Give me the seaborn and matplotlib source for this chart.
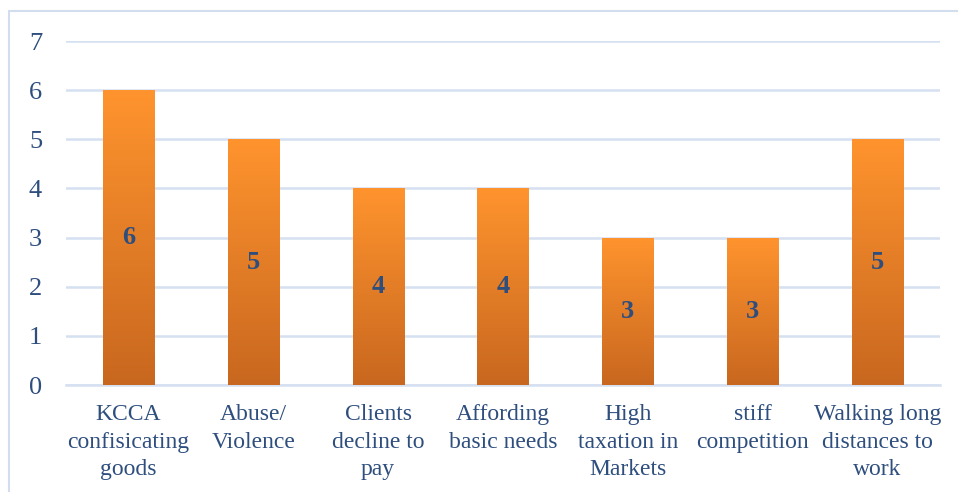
import numpy as np
import pandas as pd
import matplotlib
matplotlib.use("Agg")
import matplotlib.pyplot as plt
from matplotlib.patches import Rectangle
from matplotlib.colors import LinearSegmentedColormap
import seaborn as sns

# Challenges reported and how many respondents named each
categories = [
    "KCCA\nconfisicating\ngoods",
    "Abuse/\nViolence",
    "Clients\ndecline to\npay",
    "Affording\nbasic needs",
    "High\ntaxation in\nMarkets",
    "stiff\ncompetition",
    "Walking long\ndistances to\nwork",
]
counts = [6, 5, 4, 4, 3, 3, 5]
y_ticks = [0, 1, 2, 3, 4, 5, 6, 7]

TEXT_BLUE = "#2E4E7E"
GRID_BLUE = "#D5E0F1"
FRAME_BLUE = "#D2DEF0"

sns.set_theme(style="white")
plt.rcParams["font.family"] = ["Liberation Serif", "DejaVu Serif"]

fig = plt.figure(figsize=(9.58, 4.92), dpi=100)
ax = fig.add_axes([66 / 958, 107 / 492, 874 / 958, 344 / 492])

df = pd.DataFrame({"category": categories, "count": counts})
sns.barplot(data=df, x="category", y="count", ax=ax, width=0.41,
            color="#F28C28", saturation=1, edgecolor="none", zorder=3)

# vertical orange gradient inside each bar
grad_cmap = LinearSegmentedColormap.from_list("orange_grad", ["#C8671F", "#FF942E"])
gradient = np.linspace(0, 1, 256).reshape(-1, 1)
for patch in ax.patches:
    x0, y0 = patch.get_x(), patch.get_y()
    w, h = patch.get_width(), patch.get_height()
    img = ax.imshow(gradient, extent=[x0, x0 + w, y0, y0 + h], origin="lower",
                    aspect="auto", cmap=grad_cmap, zorder=4)
    img.set_clip_path(patch)

# value labels in the middle of each bar
for i, v in enumerate(counts):
    ax.text(i, v / 2, str(v), ha="center", va="center", fontsize=19,
            fontweight="bold", color=TEXT_BLUE, zorder=5)

ax.set_xlim(-0.5, len(categories) - 0.5)
ax.set_ylim(0, 7)
ax.set_yticks(y_ticks)
ax.set_yticklabels([str(t) for t in y_ticks])
ax.set_xlabel("")
ax.set_ylabel("")

ax.yaxis.grid(True, color=GRID_BLUE, linewidth=1.8, zorder=0)
ax.set_axisbelow(True)
for side in ["left", "right", "top"]:
    ax.spines[side].set_visible(False)
ax.spines["bottom"].set_color(GRID_BLUE)
ax.spines["bottom"].set_linewidth(1.8)

ax.tick_params(axis="y", length=0, pad=22, labelsize=19, labelcolor=TEXT_BLUE)
for lbl in ax.get_yticklabels():
    lbl.set_horizontalalignment("center")
ax.tick_params(axis="x", length=0, pad=14, labelsize=17, labelcolor=TEXT_BLUE)
for lbl in ax.get_xticklabels():
    lbl.set_linespacing(1.4)

# chart area frame
fig.patches.append(Rectangle((9 / 958, -0.05), 1.0, (492 - 11) / 492 + 0.05,
                             transform=fig.transFigure, fill=False,
                             edgecolor=FRAME_BLUE, linewidth=1.5))

fig.savefig("out.png", dpi=100)
